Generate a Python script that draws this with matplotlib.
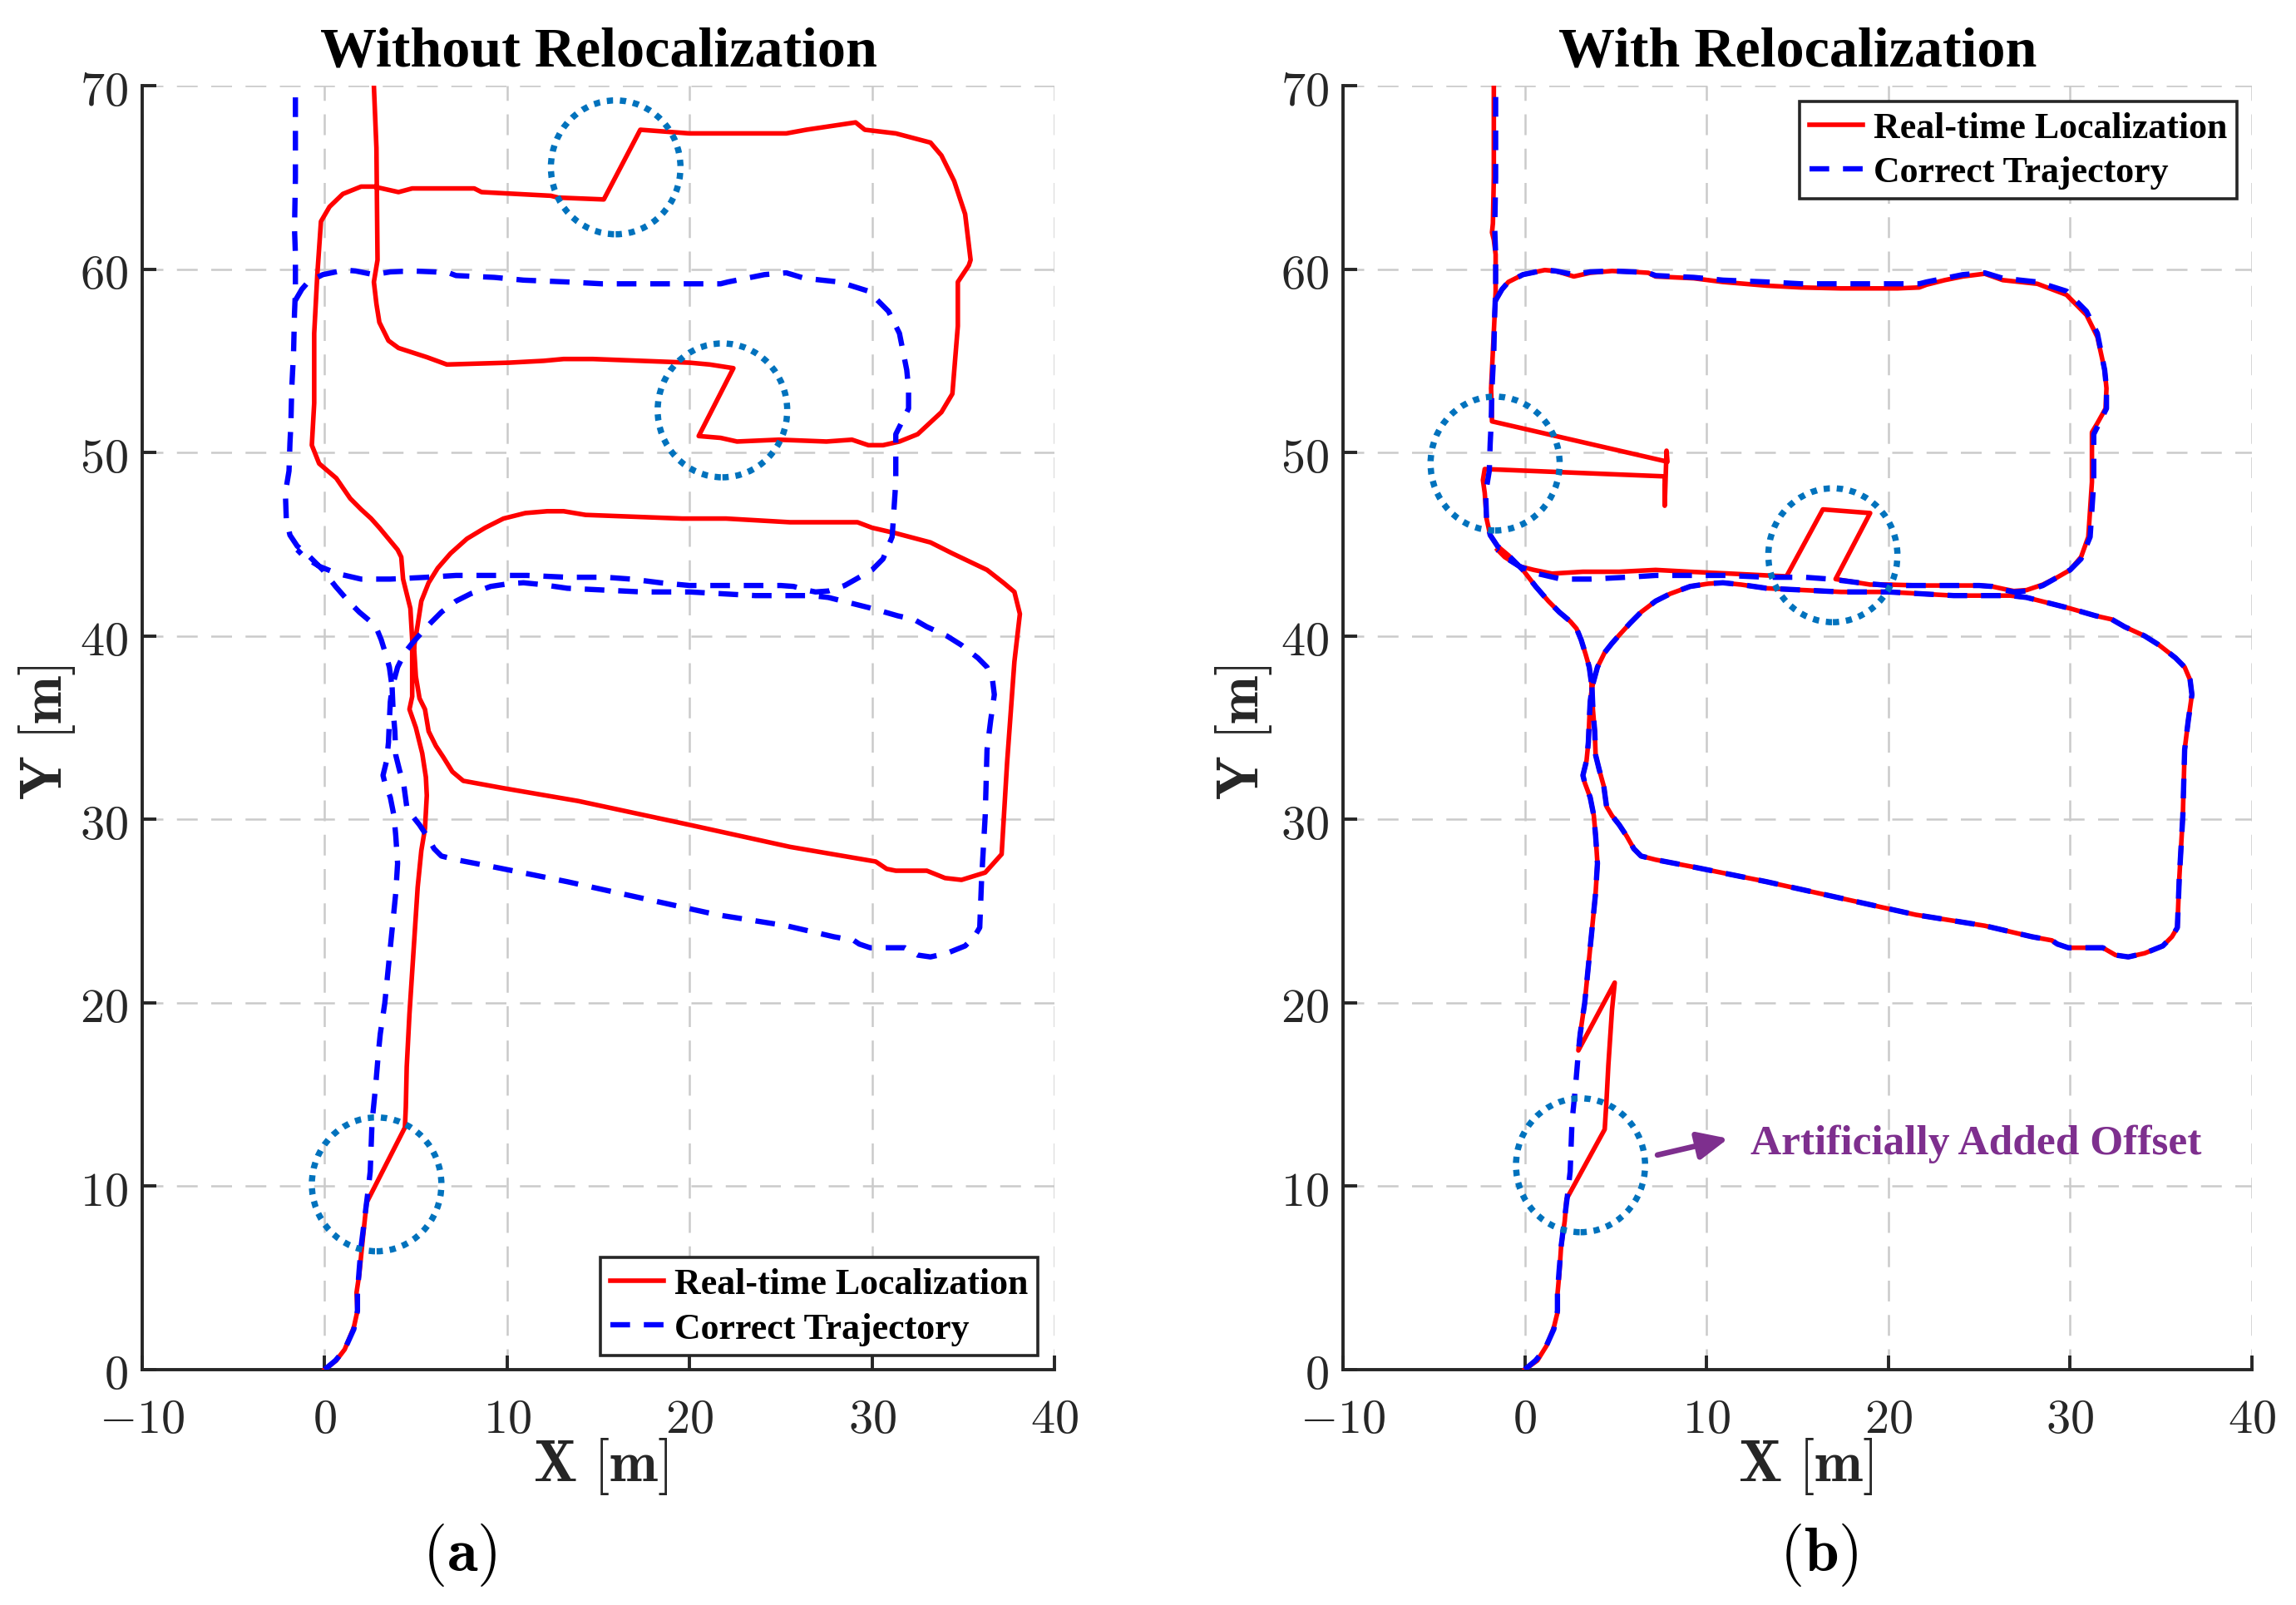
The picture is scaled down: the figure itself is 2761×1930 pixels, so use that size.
import matplotlib
matplotlib.use('Agg')
import matplotlib.pyplot as plt
from matplotlib.patches import Ellipse
import numpy as np

plt.rcParams['mathtext.fontset'] = 'cm'

# Correct trajectory (same in both panels), segments split by NaN
correct_traj = [
    # spine from the origin up the left side to the top
    (0, 0), (0.6, 0.5), (1.1, 1.1), (1.6, 2.2), (1.8, 3.2), (1.8, 4.2), (1.9, 5.5), (2.0, 6.7),
    (2.2, 8.3), (2.35, 9.5), (2.5, 10.8), (2.6, 13.5), (2.8, 15.5), (2.95, 17.3), (3.05, 18.3),
    (3.3, 20), (3.5, 22), (3.7, 24), (3.9, 26), (4.0, 27.6), (3.9, 29.1), (3.8, 30.2), (3.6, 31.2),
    (3.3, 32.0), (3.2, 32.4), (3.4, 33.2), (3.5, 34.2), (3.55, 35.4), (3.6, 36.4), (3.7, 37.2),
    (3.55, 38.3), (3.35, 39.0), (3.1, 39.8), (2.85, 40.4), (2.5, 40.8), (1.9, 41.3), (1.3, 41.9),
    (0.6, 42.7), (-0.1, 43.6), (-0.9, 44.4), (-1.5, 44.9), (-1.9, 45.5), (-2.1, 46.4), (-2.15, 47.8),
    (-1.95, 49.0), (-1.9, 50.5), (-1.85, 51.5), (-1.8, 53.5), (-1.7, 55.5), (-1.65, 57.6),
    (-1.6, 58.8), (-1.6, 60.8), (-1.65, 62.2), (-1.6, 65), (-1.6, 70),
    (np.nan, np.nan),
    # upper loop
    (-1.6, 58.3), (-1.25, 58.9), (-0.9, 59.3), (-0.1, 59.7), (1.1, 59.95), (1.7, 59.9), (2.7, 59.7),
    (3.6, 59.85), (4.8, 59.9), (6.0, 59.85), (6.8, 59.8), (7.2, 59.65), (9.3, 59.55), (10.9, 59.4),
    (13.3, 59.3), (15.2, 59.2), (17.4, 59.2), (20.0, 59.2), (21.7, 59.2), (22.1, 59.3), (23.1, 59.5),
    (24.1, 59.7), (25.3, 59.8), (26.3, 59.5), (28.2, 59.3), (29.8, 58.8), (30.9, 57.7), (31.5, 56.5),
    (31.9, 54.5), (32.0, 53.5), (32.0, 52.4), (31.6, 51.6), (31.3, 51.0), (31.3, 48.4), (31.1, 45.4),
    (30.6, 44.2), (30.0, 43.6), (29.3, 43.2), (28.5, 42.75), (27.6, 42.45), (26.9, 42.4), (26.4, 42.5),
    (25.7, 42.7), (25.0, 42.75), (21.8, 42.75), (20.0, 42.75), (18.4, 42.9), (16.8, 43.1),
    (15.4, 43.2), (13.3, 43.2), (11.1, 43.3), (9.3, 43.3), (7.2, 43.3), (5.6, 43.2), (3.6, 43.1),
    (2.0, 43.1), (0.7, 43.4), (-0.3, 43.8), (-1.1, 44.3), (-1.5, 44.7),
    (np.nan, np.nan),
    # lower loop
    (3.7, 37.2), (3.75, 36.0), (3.85, 34.8), (3.9, 33.5), (4.1, 32.7), (4.35, 31.8), (4.5, 30.7),
    (4.8, 30.2), (5.2, 29.7), (5.6, 29.1), (6.0, 28.4), (6.4, 28.0), (7.2, 27.8), (9.3, 27.4),
    (13.3, 26.6), (17.4, 25.7), (21.5, 24.8), (25.3, 24.2), (27.9, 23.6), (29.0, 23.4), (29.3, 23.2),
    (29.9, 23.0), (30.6, 23.0), (31.4, 23.0), (31.8, 23.0), (32.5, 22.6), (33.2, 22.5), (34.1, 22.7),
    (35.1, 23.1), (35.6, 23.6), (35.9, 24.1), (36.0, 26.7), (36.2, 30.2), (36.3, 33.8), (36.5, 35.4),
    (36.7, 36.8), (36.6, 37.6), (36.3, 38.3), (35.8, 38.8), (34.9, 39.5), (34.1, 40.0), (33.0, 40.5),
    (32.3, 40.9), (31.4, 41.1), (30.0, 41.5), (28.8, 41.8), (27.6, 42.1), (26.7, 42.2), (23.6, 42.2),
    (20.0, 42.4), (17.4, 42.4), (15.4, 42.5), (13.3, 42.6), (11.9, 42.8), (10.9, 42.9), (10.1, 42.85),
    (9.1, 42.7), (8.0, 42.3), (7.2, 41.9), (6.4, 41.3), (5.8, 40.7), (5.2, 40.05), (4.8, 39.6),
    (4.4, 39.1), (4.0, 38.3), (3.7, 37.2),
]

# Real-time localization without relocalization (a)
realtime_a = [
    (0, 0), (0.64, 0.5), (1.1, 1.1), (1.6, 2.3), (1.8, 3.2), (1.75, 4.2), (1.9, 5.2), (2.1, 7.2),
    (2.3, 9.1), (4.4, 13.2), (4.45, 14.3), (4.5, 16.5), (4.65, 19.4), (4.9, 23.2), (5.1, 26.3),
    (5.3, 28.3), (5.5, 29.5), (5.6, 31.3), (5.55, 32.3), (5.35, 33.6), (5.0, 35.0), (4.65, 36.0),
    (4.8, 36.7), (4.8, 39.0), (4.8, 39.8), (4.7, 41.5), (4.5, 42.3), (4.3, 43.1), (4.2, 44.3),
    (4.0, 44.7), (3.5, 45.3), (3.0, 45.9), (2.55, 46.4), (2.0, 46.9), (1.4, 47.5), (0.64, 48.6),
    (-0.3, 49.4), (-0.7, 50.4), (-0.57, 52.7), (-0.57, 56.5), (-0.4, 59.7), (-0.2, 62.6),
    (0.27, 63.4), (1.0, 64.1), (2.0, 64.5), (2.7, 64.5), (4.05, 64.2), (4.8, 64.4), (6.3, 64.4),
    (8.2, 64.4), (8.6, 64.2), (12.4, 64.0), (12.8, 63.9), (15.3, 63.8), (17.3, 67.6), (20.0, 67.4),
    (25.3, 67.4), (26.4, 67.6), (29.1, 68.0), (29.6, 67.6), (31.3, 67.4), (33.2, 66.9), (33.8, 66.2),
    (34.5, 64.8), (35.1, 63.0), (35.4, 60.5), (35.3, 60.2), (34.7, 59.3), (34.7, 56.9), (34.4, 53.2),
    (33.8, 52.2), (32.5, 51.0), (31.5, 50.6), (30.6, 50.4), (29.8, 50.4), (28.9, 50.7), (27.5, 50.6),
    (24.9, 50.7), (22.6, 50.6), (21.7, 50.8), (20.5, 50.9), (22.4, 54.6), (21.1, 54.8), (20.0, 54.9),
    (14.7, 55.1), (13.1, 55.1), (12.0, 55.0), (10.1, 54.9), (6.7, 54.8), (5.6, 55.2), (4.05, 55.7),
    (3.5, 56.1), (3.0, 57.1), (2.84, 58.1), (2.7, 59.3), (2.9, 60.5), (2.84, 66.6), (2.7, 70),
    (np.nan, np.nan),
    (4.9, 39.4), (5.0, 37.8), (5.2, 36.6), (5.5, 36.0), (5.7, 34.8), (6.1, 34.0), (6.5, 33.4),
    (7.0, 32.6), (7.6, 32.1), (9.8, 31.7), (13.9, 31.0), (20.0, 29.7), (25.5, 28.5), (30.2, 27.7),
    (30.8, 27.3), (31.3, 27.2), (33.0, 27.2), (34.0, 26.8), (34.9, 26.7), (36.2, 27.1), (37.1, 28.1),
    (37.4, 33.1), (37.8, 38.6), (38.1, 41.2), (37.8, 42.4), (37.2, 42.9), (36.3, 43.6), (34.4, 44.5),
    (33.2, 45.1), (31.3, 45.6), (30.0, 45.9), (29.2, 46.2), (25.5, 46.2), (22.0, 46.4), (19.6, 46.4),
    (14.3, 46.6), (13.1, 46.8), (12.2, 46.8), (11.0, 46.7), (9.8, 46.4), (8.8, 45.9), (7.8, 45.3),
    (6.9, 44.5), (6.2, 43.7), (5.7, 42.9), (5.3, 41.9), (5.1, 40.6), (4.9, 39.4),
]

# Real-time localization with relocalization (b)
realtime_b = [
    (0, 0), (0.7, 0.5), (1.2, 1.3), (1.6, 2.3), (1.8, 3.1), (1.8, 4.1), (1.9, 5.2), (2.0, 6.7),
    (2.2, 8.1), (2.3, 9.3), (4.4, 13.1), (4.5, 14.7), (4.6, 16.6), (4.8, 19.6), (4.95, 21.1),
    (2.95, 17.4), (3.05, 18.3), (3.3, 20), (3.5, 22), (3.7, 24), (3.9, 26), (4.0, 27.6), (3.9, 29.1),
    (3.8, 30.2), (3.6, 31.2), (3.3, 32.0), (3.2, 32.4), (3.4, 33.2), (3.5, 34.2), (3.55, 35.4),
    (3.6, 36.4), (3.7, 37.2), (3.55, 38.3), (3.35, 39.0), (3.1, 39.8), (2.85, 40.4), (2.5, 40.8),
    (1.9, 41.3), (1.3, 41.9), (0.6, 42.7), (-0.1, 43.6), (-0.9, 44.4), (-1.5, 44.9), (-1.9, 45.5),
    (-2.1, 46.4), (-2.2, 47.8), (-2.3, 48.5), (-2.2, 49.1), (7.7, 48.7), (7.7, 47.1), (7.8, 50.1),
    (7.85, 49.5), (-1.8, 51.7), (-1.85, 53.5), (-1.75, 55.5), (-1.65, 57.6), (-1.6, 58.8),
    (-1.6, 60.8), (-1.7, 61.6), (-1.8, 62.0), (-1.75, 62.5), (-1.7, 65), (-1.7, 70),
    (np.nan, np.nan),
    (-1.6, 58.3), (-1.25, 58.9), (-0.9, 59.3), (-0.1, 59.7), (1.1, 59.95), (1.7, 59.9), (2.7, 59.6),
    (3.6, 59.8), (4.8, 59.9), (6.0, 59.85), (6.8, 59.8), (7.2, 59.6), (9.3, 59.5), (10.9, 59.3),
    (13.3, 59.1), (15.2, 59.0), (17.4, 58.95), (20.5, 58.95), (21.7, 59.0), (22.1, 59.15),
    (23.1, 59.4), (24.1, 59.6), (25.3, 59.75), (26.3, 59.4), (28.2, 59.2), (29.8, 58.6), (30.9, 57.5),
    (31.5, 56.3), (31.9, 54.5), (32.0, 53.5), (31.95, 52.4), (31.5, 51.6), (31.2, 51.1), (31.2, 48.4),
    (31.0, 45.4), (30.6, 44.3), (30.0, 43.6), (29.3, 43.2), (28.5, 42.8), (27.6, 42.5), (26.9, 42.45),
    (26.4, 42.55), (25.7, 42.7), (25.0, 42.75), (21.8, 42.75), (20.0, 42.8), (19.0, 42.8),
    (17.1, 43.1), (19.0, 46.7), (16.4, 46.9), (14.4, 43.25), (13.3, 43.3), (11.3, 43.4), (9.1, 43.5),
    (7.2, 43.6), (5.2, 43.5), (3.2, 43.5), (1.5, 43.4), (0.5, 43.6), (-0.3, 43.8), (-1.1, 44.3),
    (-1.5, 44.7),
    (np.nan, np.nan),
] + correct_traj[correct_traj.index((3.7, 37.2), 60):]

# Highlight circles (centre x, centre y)
circles_a = [(15.95, 65.55), (21.8, 52.3), (2.85, 10.1)]
circles_b = [(-1.63, 49.4), (16.95, 44.4), (3.07, 11.14)]

x_ticks = [-10, 0, 10, 20, 30, 40]
y_ticks = [0, 10, 20, 30, 40, 50, 60, 70]

red = '#ff0000'
blue = '#0000ff'
circle_color = '#0072bd'
purple = '#7e2f8e'
dark = '#262626'
serif = 'Liberation Serif'

fig = plt.figure(figsize=(13.805, 9.655), dpi=200)
ax_a = fig.add_axes([0.0619, 0.1466, 0.3974, 0.7995])
ax_b = fig.add_axes([0.5849, 0.1466, 0.3959, 0.7995])


def style_axes(ax, title):
    ax.set_xlim(-10, 40)
    ax.set_ylim(0, 70)
    ax.set_xticks(x_ticks)
    ax.set_xticklabels(['$%d$' % t for t in x_ticks], fontsize=21)
    ax.set_yticks(y_ticks)
    ax.set_yticklabels(['$%d$' % t for t in y_ticks], fontsize=21)
    ax.spines['top'].set_visible(False)
    ax.spines['right'].set_visible(False)
    for s in ['left', 'bottom']:
        ax.spines[s].set_linewidth(1.4)
        ax.spines[s].set_color(dark)
    ax.tick_params(direction='in', length=6, width=1.4, color=dark, labelcolor=dark)
    ax.tick_params(axis='x', pad=11)
    ax.tick_params(axis='y', pad=6)
    ax.set_axisbelow(True)
    ax.grid(True, color='#cacaca', linestyle=(0, (10, 6.5)), linewidth=0.9)
    ax.set_title(title, fontfamily=serif, fontweight='bold', fontsize=24.5, pad=9, color='black')


def draw_panel(ax, realtime, circles):
    rt = np.array(realtime, dtype=float)
    ct = np.array(correct_traj, dtype=float)
    l1, = ax.plot(rt[:, 0], rt[:, 1], color=red, lw=2.0, zorder=3, label='Real-time Localization')
    l2, = ax.plot(ct[:, 0], ct[:, 1], color=blue, lw=2.3, linestyle=(0, (3.7, 2.6)), zorder=4,
                  label='Correct Trajectory')
    for cx, cy in circles:
        ax.add_patch(Ellipse((cx, cy), 7.1, 7.3, fill=False, edgecolor=circle_color, lw=2.7,
                             linestyle=(0, (1, 1.1)), zorder=5))
    return l1, l2


style_axes(ax_a, 'Without Relocalization')
style_axes(ax_b, 'With Relocalization')
h_a = draw_panel(ax_a, realtime_a, circles_a)
h_b = draw_panel(ax_b, realtime_b, circles_b)

leg_kw = dict(prop={'family': serif, 'weight': 'bold', 'size': 15.8}, frameon=True, fancybox=False,
              framealpha=1, edgecolor=dark, borderaxespad=0, borderpad=0.28, labelspacing=0.3,
              handlelength=1.45, handletextpad=0.3)
leg_a = ax_a.legend(handles=h_a, loc='lower right', bbox_to_anchor=(0.982, 0.011), **leg_kw)
leg_b = ax_b.legend(handles=h_b, loc='upper right', bbox_to_anchor=(0.984, 0.988), **leg_kw)
for leg in (leg_a, leg_b):
    leg.get_frame().set_linewidth(1.3)
    leg.set_zorder(6)

# annotation in panel (b)
ax_b.annotate('', xy=(11.2, 12.6), xytext=(7.3, 11.7),
              arrowprops=dict(arrowstyle='-|>,head_length=0.55,head_width=0.25', color=purple,
                              lw=2.4, mutation_scale=20, shrinkA=0, shrinkB=0), zorder=6)
ax_b.text(12.4, 11.78, 'Artificially Added Offset', color=purple, fontfamily=serif,
          fontweight='bold', fontsize=18.5, ha='left', va='baseline', zorder=6)

# axis labels and panel tags
for xc in (0.2615, 0.7866):
    fig.text(xc, 0.087, r'$\mathbf{X\ [m]}$', fontsize=25, ha='center', va='center', color=dark)
for xc in (0.0203, 0.5418):
    fig.text(xc, 0.544, r'$\mathbf{Y\ [m]}$', fontsize=25, ha='center', va='center', rotation=90,
             color=dark)
fig.text(0.2003, 0.0316, r'$(\mathbf{a})$', fontsize=27, ha='center', va='center', color='black')
fig.text(0.7921, 0.0316, r'$(\mathbf{b})$', fontsize=27, ha='center', va='center', color='black')

fig.savefig('out.png', dpi=200)
